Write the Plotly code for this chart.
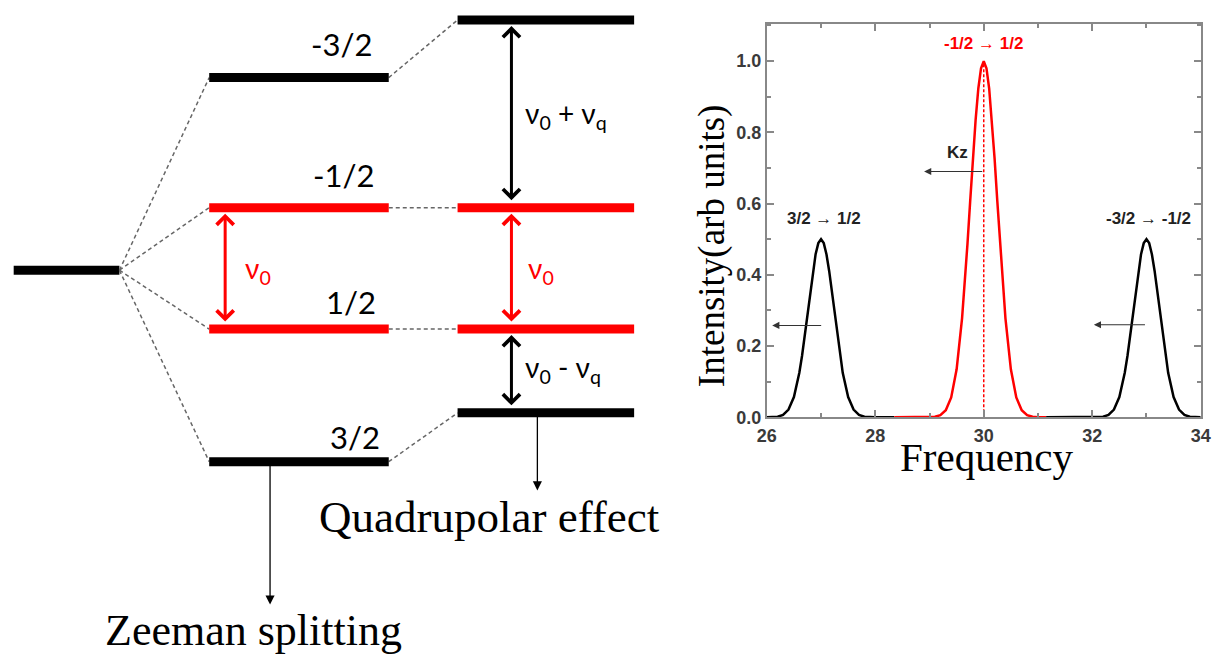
import plotly.graph_objects as go

# ---------------- spectrum data ----------------
left_x = [26.0, 26.2, 26.3, 26.4, 26.5, 26.6, 26.65, 26.7, 26.75, 26.8, 26.85, 26.9, 26.95, 27.0,
          27.05, 27.1, 27.15, 27.2, 27.25, 27.3, 27.35, 27.4, 27.5, 27.6, 27.7, 27.8, 28.0, 28.35]
left_y = [0.0, 0.002, 0.007, 0.022, 0.057, 0.125, 0.173, 0.229, 0.291, 0.353, 0.411, 0.458, 0.489, 0.5,
          0.489, 0.458, 0.411, 0.353, 0.291, 0.229, 0.173, 0.125, 0.057, 0.022, 0.007, 0.002, 0.0, 0.0]

center_x = [28.35, 29.0, 29.1, 29.2, 29.3, 29.4, 29.5, 29.6, 29.65, 29.7, 29.75, 29.8, 29.85, 29.9, 29.95, 30.0,
            30.05, 30.1, 30.15, 30.2, 30.25, 30.3, 30.35, 30.4, 30.5, 30.6, 30.7, 30.8, 30.9, 31.0, 31.15]
center_y = [0.0, 0.0, 0.0015, 0.006, 0.02, 0.056, 0.135, 0.278, 0.375, 0.487, 0.607, 0.726, 0.835, 0.923, 0.98, 1.0,
            0.98, 0.923, 0.835, 0.726, 0.607, 0.487, 0.375, 0.278, 0.135, 0.056, 0.02, 0.006, 0.0015, 0.0, 0.0]

right_x = [31.15, 32.0, 32.2, 32.3, 32.4, 32.5, 32.6, 32.65, 32.7, 32.75, 32.8, 32.85, 32.9, 32.95, 33.0,
           33.05, 33.1, 33.15, 33.2, 33.25, 33.3, 33.35, 33.4, 33.5, 33.6, 33.7, 33.8, 34.0]
right_y = [0.0, 0.0, 0.002, 0.007, 0.022, 0.057, 0.125, 0.173, 0.229, 0.291, 0.353, 0.411, 0.458, 0.489, 0.5,
           0.489, 0.458, 0.411, 0.353, 0.291, 0.229, 0.173, 0.125, 0.057, 0.022, 0.007, 0.002, 0.0]

central_freq = 30.0
central_peak = 1.0
x_ticks = [26, 28, 30, 32, 34]
y_ticks = [0.0, 0.2, 0.4, 0.6, 0.8, 1.0]

peak_labels = ["3/2 \u2192 1/2", "-1/2 \u2192 1/2", "-3/2 \u2192 -1/2"]
peak_label_x = [27.05, 30.0, 33.03]
peak_label_y = [0.559, 1.05, 0.559]
shift_arrow_from = [27.03, 30.0, 33.0]
shift_arrow_to = [26.1, 28.9, 32.03]
shift_arrow_y = [0.258, 0.69, 0.26]

# ---------------- energy level data (units of nu0, base level = 0) ----------------
base_E = 0.0
level_labels = ["-3/2", "-1/2", "1/2", "3/2"]
zeeman_E = [1.54, 0.5, -0.47, -1.53]
quad_E = [2.0, 0.5, -0.47, -1.14]

RED = "#ff0000"
BLACK = "#000000"
DIAG_FONT = "Lato, Carlito, 'Open Sans', 'DejaVu Sans', sans-serif"
SERIF = "'Liberation Serif', 'Times New Roman', serif"
SANS = "'Liberation Sans', Arial, sans-serif"

# page placement calibration (rendered pixel = S * figure pixel + offset)
SX, BX = 0.986, 8.3
SY, BY = 0.984, 0.0
FW, FH = 1214, 660


def fx(r):  # reference pixel column -> figure pixel
    return (r - BX) / SX


def fy(r):  # reference pixel row -> figure pixel
    return (r - BY) / SY


def px(r):
    return fx(r) / FW


def py(r):
    return 1 - fy(r) / FH


def ey(p):  # reference pixel row -> energy coordinate on the diagram axis
    return (270 - p) / 125.0


fig = go.Figure()

# ---------------- spectrum ----------------
fig.add_trace(go.Scatter(x=left_x, y=left_y, mode="lines", line=dict(color=BLACK, width=2.5),
                         xaxis="x", yaxis="y", hoverinfo="skip"))
fig.add_trace(go.Scatter(x=right_x, y=right_y, mode="lines", line=dict(color=BLACK, width=2.5),
                         xaxis="x", yaxis="y", hoverinfo="skip"))
fig.add_trace(go.Scatter(x=center_x, y=center_y, mode="lines", line=dict(color=RED, width=2.5),
                         xaxis="x", yaxis="y", hoverinfo="skip"))
fig.add_trace(go.Scatter(x=[central_freq, central_freq], y=[0, central_peak], mode="lines",
                         line=dict(color=RED, width=1.5, dash="3px,2px"),
                         xaxis="x", yaxis="y", hoverinfo="skip"))

annotations = []
for lab, lx, ly in zip(peak_labels, peak_label_x, peak_label_y):
    col = RED if lab.startswith("-1/2") else "#222222"
    annotations.append(dict(x=lx, y=ly, xref="x", yref="y", text=lab, showarrow=False,
                            xanchor="center", yanchor="middle",
                            font=dict(family=SANS, size=17, color=col, weight="bold")))
annotations.append(dict(x=29.51, y=0.744, xref="x", yref="y", text="Kz", showarrow=False,
                        xanchor="center", yanchor="middle",
                        font=dict(family=SANS, size=17, color="#222222", weight="bold")))
for x0, x1, yy in zip(shift_arrow_from, shift_arrow_to, shift_arrow_y):
    annotations.append(dict(x=x1, y=yy, ax=x0, ay=yy, xref="x", yref="y", axref="x", ayref="y",
                            text="", showarrow=True, arrowhead=2, arrowsize=1.3, arrowwidth=1.1,
                            arrowcolor="#333333", standoff=0))

annotations.append(dict(x=px(712), y=py(245), xref="paper", yref="paper",
                        xanchor="center", yanchor="middle",
                        text="Intensity(arb units)", textangle=-90, showarrow=False,
                        font=dict(family=SERIF, size=37, color=BLACK)))
annotations.append(dict(x=px(988), y=py(457), xref="paper", yref="paper",
                        xanchor="center", yanchor="middle",
                        text="Frequency", showarrow=False,
                        font=dict(family=SERIF, size=41, color=BLACK)))

# ---------------- energy level diagram ----------------
BASE_X = (12, 118)
ZEE_X = (208, 388)
QUAD_X = (457, 634)
LEVEL_W = 9

fig.add_trace(go.Scatter(x=list(BASE_X), y=[base_E, base_E], mode="lines",
                         line=dict(color=BLACK, width=LEVEL_W), xaxis="x2", yaxis="y2", hoverinfo="skip"))

cx, cy = [], []
for ze, qe in zip(zeeman_E, quad_E):
    cx += [BASE_X[1], ZEE_X[0], None, ZEE_X[1], QUAD_X[0], None]
    cy += [base_E, ze, None, ze, qe, None]
fig.add_trace(go.Scatter(x=cx, y=cy, mode="lines", line=dict(color="#666666", width=1.5, dash="4px,3px"),
                         xaxis="x2", yaxis="y2", hoverinfo="skip"))

for lab, ze, qe in zip(level_labels, zeeman_E, quad_E):
    col = RED if lab in ("-1/2", "1/2") else BLACK
    fig.add_trace(go.Scatter(x=list(ZEE_X), y=[ze, ze], mode="lines", line=dict(color=col, width=LEVEL_W),
                             xaxis="x2", yaxis="y2", hoverinfo="skip"))
    fig.add_trace(go.Scatter(x=list(QUAD_X), y=[qe, qe], mode="lines", line=dict(color=col, width=LEVEL_W),
                             xaxis="x2", yaxis="y2", hoverinfo="skip"))

label_px = [(374, 44), (376, 175), (377, 302), (381, 437)]
for lab, (lx, lp) in zip(level_labels, label_px):
    annotations.append(dict(x=lx, y=ey(lp), xref="x2", yref="y2", text=lab, showarrow=False,
                            xanchor="right", yanchor="middle",
                            font=dict(family=DIAG_FONT, size=31, color=BLACK)))


def dbl_arrow(x, e_top, e_bot, col):
    return dict(x=x, y=e_top, ax=x, ay=e_bot, xref="x2", yref="y2", axref="x2", ayref="y2",
                text="", showarrow=True, arrowside="end+start", arrowhead=4, startarrowhead=4,
                arrowsize=1.1, startarrowsize=1.1, arrowwidth=3, arrowcolor=col,
                standoff=6, startstandoff=6)


annotations.append(dbl_arrow(224, zeeman_E[1], zeeman_E[2], RED))
annotations.append(dbl_arrow(511, quad_E[0], quad_E[1], BLACK))
annotations.append(dbl_arrow(511, quad_E[1], quad_E[2], RED))
annotations.append(dbl_arrow(511, quad_E[2], quad_E[3], BLACK))

annotations.append(dict(x=242, y=ey(270), xref="x2", yref="y2", text="\u03bd<sub>0</sub>",
                        showarrow=False, xanchor="left", yanchor="middle",
                        font=dict(family=DIAG_FONT, size=28, color=RED)))
annotations.append(dict(x=526, y=ey(270), xref="x2", yref="y2", text="\u03bd<sub>0</sub>",
                        showarrow=False, xanchor="left", yanchor="middle",
                        font=dict(family=DIAG_FONT, size=28, color=RED)))
annotations.append(dict(x=523, y=ey(115), xref="x2", yref="y2",
                        text="\u03bd<sub>0</sub> + \u03bd<sub>q</sub>",
                        showarrow=False, xanchor="left", yanchor="middle",
                        font=dict(family=DIAG_FONT, size=28, color=BLACK)))
annotations.append(dict(x=523, y=ey(369), xref="x2", yref="y2",
                        text="\u03bd<sub>0</sub> - \u03bd<sub>q</sub>",
                        showarrow=False, xanchor="left", yanchor="middle",
                        font=dict(family=DIAG_FONT, size=28, color=BLACK)))

annotations.append(dict(x=269, y=ey(604), ax=269, ay=zeeman_E[3], xref="x2", yref="y2", axref="x2", ayref="y2",
                        text="", showarrow=True, arrowhead=2, arrowsize=1.4, arrowwidth=1.3,
                        arrowcolor=BLACK, standoff=0))
annotations.append(dict(x=537, y=ey(490), ax=537, ay=quad_E[3], xref="x2", yref="y2", axref="x2", ayref="y2",
                        text="", showarrow=True, arrowhead=2, arrowsize=1.4, arrowwidth=1.3,
                        arrowcolor=BLACK, standoff=0))
annotations.append(dict(x=252, y=ey(630), xref="x2", yref="y2", text="Zeeman splitting",
                        showarrow=False, xanchor="center", yanchor="middle",
                        font=dict(family=SERIF, size=44, color=BLACK)))
annotations.append(dict(x=489, y=ey(517), xref="x2", yref="y2", text="Quadrupolar effect",
                        showarrow=False, xanchor="center", yanchor="middle",
                        font=dict(family=SERIF, size=45, color=BLACK)))

axis_common = dict(showline=True, linecolor="#888888", linewidth=2, mirror="ticks",
                   ticks="inside", ticklen=7, tickwidth=1.5, tickcolor="#888888",
                   showgrid=False, zeroline=False, ticklabeloverflow="allow",
                   tickfont=dict(family=SANS, size=18, color="#3a3a3a", weight="bold"))

fig.update_layout(
    width=FW, height=FH,
    margin=dict(l=0, r=0, t=0, b=0),
    paper_bgcolor="white", plot_bgcolor="rgba(0,0,0,0)",
    showlegend=False,
    xaxis=dict(domain=[px(767), px(1202)], range=[26, 34], tickvals=x_ticks, anchor="y",
               ticklabelstandoff=1,
               minor=dict(ticks="inside", ticklen=4, tickcolor="#888888", dtick=1, tick0=26),
               **axis_common),
    yaxis=dict(domain=[py(417), py(24)], range=[0, 1.104], tickvals=y_ticks, tickformat=".1f",
               anchor="x",
               minor=dict(ticks="inside", ticklen=4, tickcolor="#888888", dtick=0.1, tick0=0),
               **axis_common),
    xaxis2=dict(domain=[0, 1], range=[BX, BX + SX * FW], visible=False, anchor="y2", fixedrange=True),
    yaxis2=dict(domain=[0, 1], range=[ey(BY + SY * FH), ey(BY)], visible=False, anchor="x2", fixedrange=True),
    annotations=annotations,
)

fig.write_html("out.html")
